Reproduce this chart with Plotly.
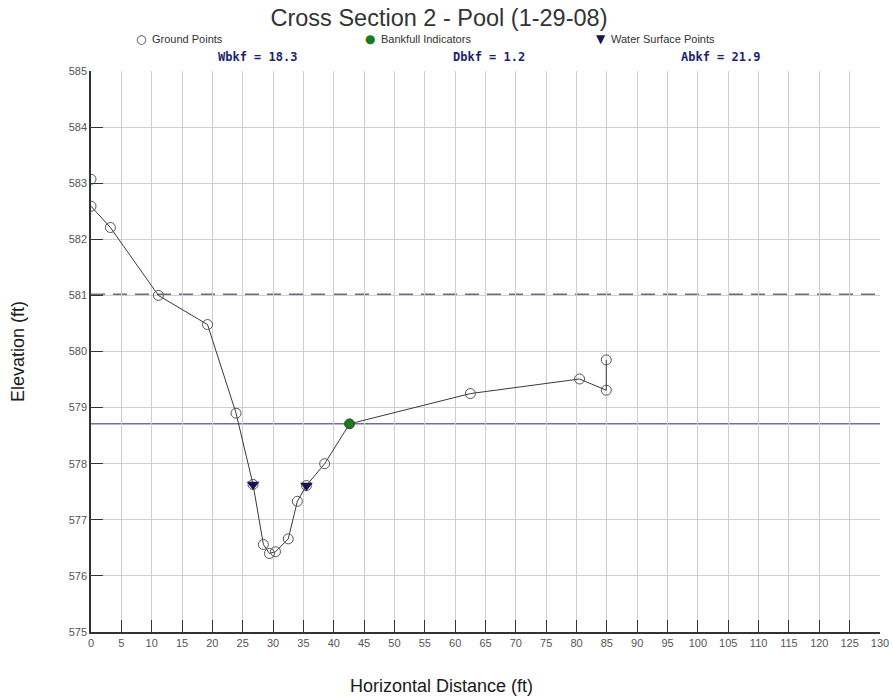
import plotly.graph_objects as go

# Ground survey points (station ft, elevation ft)
ground_x = [0.0, 0.0, 3.2, 11.1, 19.2, 23.9, 26.7, 28.4, 29.4, 30.4, 32.5, 34.0, 35.5, 38.5, 42.6, 62.5, 80.5, 84.9, 84.9]
ground_y = [583.07, 582.59, 582.21, 581.0, 580.48, 578.9, 577.63, 576.56, 576.40, 576.43, 576.66, 577.33, 577.61, 578.0, 578.71, 579.25, 579.51, 579.31, 579.85]

# Bankfull indicators
bkf_x = [42.6]
bkf_y = [578.71]

# Water surface points
ws_x = [26.7, 35.5]
ws_y = [577.63, 577.61]

bankfull_elev = 578.71
dashed_elev = 581.02

legend_names = ["Ground Points", "Bankfull Indicators", "Water Surface Points"]
stats = ["Wbkf = 18.3", "Dbkf = 1.2", "Abkf = 21.9"]
x_ticks = list(range(0, 131, 5))
y_ticks = list(range(575, 586, 1))

# layout geometry in screenshot pixels
W, H = 893, 700
L, R, T, B = 91, 13, 71, 68
PW, PH = W - L - R, H - T - B


def px(p):
    return (p - L) / PW


def py(p):
    return (H - B - p) / PH


FONT = "Liberation Sans, Arial"

fig = go.Figure()

# connecting line through ground points (first point is isolated)
fig.add_trace(go.Scatter(x=ground_x[1:], y=ground_y[1:], mode="lines",
                         line=dict(color="#3a3a3a", width=1), showlegend=False, hoverinfo="skip"))
fig.add_trace(go.Scatter(x=ground_x, y=ground_y, mode="markers", name=legend_names[0], showlegend=False,
                         marker=dict(symbol="circle-open", size=10, color="#555555", line=dict(width=1))))
fig.add_trace(go.Scatter(x=bkf_x, y=bkf_y, mode="markers", name=legend_names[1], showlegend=False,
                         marker=dict(symbol="circle", size=9, color="#1e7a1e", line=dict(color="#145214", width=1))))
fig.add_trace(go.Scatter(x=ws_x, y=ws_y, mode="markers", name=legend_names[2], showlegend=False,
                         marker=dict(symbol="triangle-down", size=11, color="#141450")))

fig.add_shape(type="line", xref="paper", x0=0, x1=1, y0=bankfull_elev, y1=bankfull_elev,
              line=dict(color="#6f6fa5", width=1.5), layer="below")
fig.add_shape(type="line", xref="paper", x0=0, x1=1, y0=dashed_elev, y1=dashed_elev,
              line=dict(color="#6a6a88", width=1.5, dash="14px,8px"), layer="below")

# manual legend
leg_sym = [("○", "#333333"), ("●", "#1e7a1e"), ("▼", "#141450")]
leg_sym_x = [141, 370, 601]
leg_txt_x = [150, 379, 609]
for (sym, col), sx, tx, name in zip(leg_sym, leg_sym_x, leg_txt_x, legend_names):
    fig.add_annotation(text=sym, xref="paper", yref="paper", x=px(sx), y=py(39), xanchor="center",
                       yanchor="middle", showarrow=False, font=dict(family="DejaVu Sans", size=12, color=col))
    fig.add_annotation(text=name, xref="paper", yref="paper", x=px(tx), y=py(39), xanchor="left",
                       yanchor="middle", showarrow=False, font=dict(family=FONT, size=11, color="#333333"))

for sx, s in zip([257, 489, 720], stats):
    fig.add_annotation(text="<b>" + s + "</b>", xref="paper", yref="paper", x=px(sx), y=py(57),
                       xanchor="center", yanchor="middle", showarrow=False,
                       font=dict(family="DejaVu Sans Mono", size=12, color="#1e1e6e"))

# axis titles
fig.add_annotation(text="Horizontal Distance (ft)", xref="paper", yref="paper", x=px(441), y=py(686),
                   xanchor="center", yanchor="middle", showarrow=False,
                   font=dict(family=FONT, size=18, color="#1a1a1a"))
fig.add_annotation(text="Elevation (ft)", xref="paper", yref="paper", x=px(18), y=py(352), textangle=-90,
                   xanchor="center", yanchor="middle", showarrow=False,
                   font=dict(family=FONT, size=18, color="#1a1a1a"))

fig.update_layout(
    width=W, height=H,
    paper_bgcolor="white", plot_bgcolor="white",
    margin=dict(l=L, r=R, t=T, b=B, autoexpand=False),
    showlegend=False,
    title=dict(text="Cross Section 2 - Pool (1-29-08)", x=439 / W, xanchor="center",
               y=1 - 18 / H, yanchor="middle", xref="container", yref="container",
               font=dict(family=FONT, size=23.5, color="#333333")),
    xaxis=dict(range=[0, 130], tickvals=x_ticks, ticktext=[str(v) for v in x_ticks],
               showgrid=True, gridcolor="#cfcfcf", gridwidth=1,
               showline=True, linecolor="#333333", linewidth=1.5,
               ticks="inside", ticklen=12, tickcolor="#333333",
               tickfont=dict(family=FONT, size=11, color="#555555"),
               zeroline=False, fixedrange=True, automargin=False),
    yaxis=dict(range=[575, 585], tickvals=y_ticks, ticktext=[str(v) for v in y_ticks],
               showgrid=True, gridcolor="#cfcfcf", gridwidth=1,
               showline=True, linecolor="#333333", linewidth=1.5,
               ticks="inside", ticklen=12, tickcolor="#333333",
               tickfont=dict(family=FONT, size=11, color="#555555"),
               zeroline=False, fixedrange=True, automargin=False),
)

fig.write_html("out.html", config={"displayModeBar": False},
               post_script="document.body.style.margin='0';document.body.style.overflow='hidden';")
